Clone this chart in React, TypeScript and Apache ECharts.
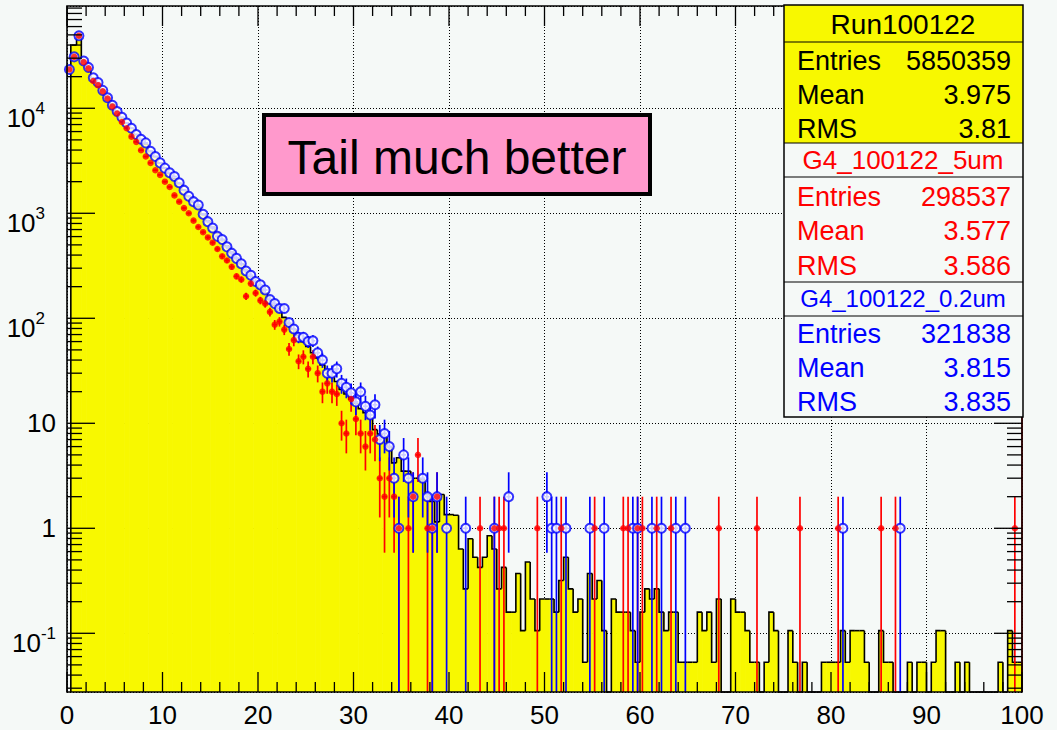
import React, { useEffect, useRef } from "react";
import * as echarts from "echarts";

const BG = "#f5f9f7";
const YELLOW = "#f8f800";
const RED = "#ff0000";
const BLUE = "#0000ff";
const PINK = "#ff99cc";
const FONT = "Liberation Sans";

const BIN_WIDTH = 0.5;
const FIRST_EDGE = 0.4;
const X_MIN = 0;
const X_MAX = 100;
const Y_MIN = 0.0276;
const Y_MAX = 94200;

const xMajorTicks = [0, 10, 20, 30, 40, 50, 60, 70, 80, 90, 100];
const yMajorExponents = [-1, 0, 1, 2, 3, 4];
const yTickLabels = ["{b|10}{n|-1}", "1", "10", "{b|10}{p|2}", "{b|10}{p|3}", "{b|10}{p|4}"];

// Yellow data histogram (Run100122), bins of 0.5, bins 0..81
const yellowMain = [
  40000, 40000, 47000, 28200, 24000, 19500, 17400, 14800, 12600, 11000,
  9330, 8130, 7240, 6460, 5620, 5010, 4570, 3890, 3470, 3020,
  2690, 2400, 2140, 1910, 1660, 1450, 1290, 1150, 977, 851,
  741, 646, 562, 490, 427, 372, 331, 288, 251, 224,
  195, 174, 151, 132, 117, 102, 89, 79, 69, 60,
  54, 47, 42, 36, 32, 28, 25, 21, 19, 17,
  15.5, 13.8, 12.6, 11.2, 8.7, 7.9, 7.4, 6.0, 4.2, 4.7,
  3.5, 3.5, 3.0, 3.0, 2.9, 2.1, 1.8, 1.15, 2.1, 1.35,
  1.35, 1.33,
];
// bins 82..199
const yellowTail = [
  0.636, 0.265, 0.795, 0.53, 0.424, 0.53, 0.848, 0.636, 0.265, 0.424,
  0.159, 0.159, 0.371, 0.106, 0.477, 0.212, 0.106, 0.212, 0.212, 0.212,
  0.159, 0.318, 0.53, 0.265, 0.159, 0.212, 0.053, 0.371, 0.212, 0.318,
  0.106, 0, 0.212, 0.159, 0.159, 0.159, 0.106, 0.053, 0.159, 0.265,
  0.212, 0.265, 0.159, 0.106, 0.159, 0.159, 0.053, 0.053, 0.053, 0.053,
  0.159, 0.106, 0.159, 0.053, 0.212, 0, 0, 0.212, 0.159, 0.159,
  0.106, 0.053, 0.053, 0, 0.053, 0.159, 0.106, 0, 0, 0.106,
  0.053, 0, 0.053, 0, 0, 0, 0.053, 0.053, 0.053, 0.053,
  0.106, 0.053, 0.106, 0.106, 0.106, 0.053, 0, 0, 0.106, 0.053,
  0.053, 0, 0, 0, 0.053, 0, 0.053, 0.053, 0, 0.053,
  0.106, 0.106, 0, 0, 0.053, 0, 0.053, 0, 0, 0,
  0, 0, 0, 0.053, 0, 0.106, 0.053, 0.053,
];

// G4_100122_5um (red), bins 0..77
const redMain = [
  23400, 30900, 49000, 27500, 24000, 18200, 16600, 14500, 12400, 10400,
  8910, 7410, 6460, 5370, 4790, 3980, 3470, 3020, 2570, 2320,
  2000, 1780, 1480, 1290, 1120, 1000, 851, 741, 661, 589,
  525, 457, 389, 355, 309, 251, 234, 162, 214, 174,
  148, 138, 115, 87, 93, 78, 51, 62, 39, 43,
  33, 43, 30, 20, 24, 20, 19, 10, 8, 17,
  11, 8, 6, 8, 7, 3, 2, 3, 2, 1,
  null, 1, 2, 5, null, 1, 1, 2,
];
const redTailBins = [86, 89, 90, 91, 98, 103, 110, 116, 117, 119, 120, 123, 126, 136, 144, 153, 161, 170, 173, 198];
const redTailVals = [1, 1, 1, 1, 1, 1, 1, 1, 1, 1, 1, 1, 1, 1, 1, 1, 1, 1, 1, 1];

// G4_100122_0.2um (blue), bins 0..79
const blueMain = [
  23400, 30900, 49000, 28200, 24500, 19500, 17600, 14800, 12600, 10700,
  9330, 8220, 7240, 6460, 5620, 5070, 4680, 3890, 3470, 3020,
  2690, 2430, 2240, 1950, 1660, 1450, 1290, 1200, 977, 832,
  724, 603, 562, 479, 417, 372, 331, 282, 257, 224,
  208, 186, 151, 138, 124, 124, 91, 79, 66, 66,
  60, 61, 47, 40, 30, 30, 33, 24, 22, 19.5,
  16, 20, 14.5, 12, 15, 7, 8, 6, 3, 1,
  5, 3, 2, null, 3, 2, 1, 2, null, 1,
];
const blueTailBins = [83, 89, 92, 100, 101, 102, 104, 109, 112, 118, 119, 122, 124, 127, 129, 162, 174];
const blueTailVals = [1, 1, 2, 2, 1, 1, 1, 1, 1, 1, 1, 1, 1, 1, 1, 1, 1];

// Stats boxes
const statTitles = ["Run100122", "G4_100122_5um", "G4_100122_0.2um"];
const statEntries = ["5850359", "298537", "321838"];
const statMeans = ["3.975", "3.577", "3.815"];
const statRms = ["3.81", "3.586", "3.835"];
const statColors = ["#000000", RED, BLUE];
const annotationText = "Tail much better";

const yellowAll = yellowMain.concat(yellowTail);
const histData = yellowAll.map((v, i) => [
  i === 0 ? FIRST_EDGE : i * BIN_WIDTH,
  (i + 1) * BIN_WIDTH,
  v,
  i === 0 ? 0 : yellowAll[i - 1],
]);

function buildPoints(main: (number | null)[], tailBins: number[], tailVals: number[]) {
  const pts: number[][] = [];
  main.forEach((v, i) => {
    if (v != null) pts.push([(i + 0.5) * BIN_WIDTH, v]);
  });
  tailBins.forEach((b, k) => pts.push([(b + 0.5) * BIN_WIDTH, tailVals[k]]));
  return pts;
}
const redPoints = buildPoints(redMain, redTailBins, redTailVals);
const bluePoints = buildPoints(blueMain, blueTailBins, blueTailVals);
const redErr = redPoints.map((p) => [p[0], p[1], Math.sqrt(p[1])]);
const blueErr = bluePoints.map((p) => [p[0], p[1], Math.sqrt(p[1])]);

const yMinorTicks: number[] = [];
for (let d = -2; d <= 4; d++) {
  for (let k = 2; k <= 9; k++) {
    const v = k * Math.pow(10, d);
    if (v > Y_MIN && v < Y_MAX) yMinorTicks.push(v);
  }
}
const xMinorTicks: number[] = [];
for (let v = 2; v < 100; v += 2) if (v % 10 !== 0) xMinorTicks.push(v);

function makeErrRender(color: string) {
  return (params: any, api: any) => {
    const cs = params.coordSys;
    const T = cs.y;
    const B = cs.y + cs.height;
    const x = api.value(0);
    const v = api.value(1);
    const e = api.value(2);
    const c = api.coord([x, v]);
    const hiY = Math.max(T, api.coord([x, v + e])[1]);
    const lo = v - e;
    const loY = lo > 0 ? Math.min(B, api.coord([x, lo])[1]) : B;
    const xl = api.coord([x - BIN_WIDTH / 2, v])[0];
    const xr = api.coord([x + BIN_WIDTH / 2, v])[0];
    return {
      type: "group",
      children: [
        { type: "line", shape: { x1: c[0], y1: hiY, x2: c[0], y2: loY }, style: { stroke: color, lineWidth: 1.7 } },
        { type: "line", shape: { x1: xl, y1: c[1], x2: xr, y2: c[1] }, style: { stroke: color, lineWidth: 1.7 } },
      ],
    };
  };
}

function buildOption(): any {
  const statGraphics: any[] = [];
  const BX = 784;
  const BW = 239;
  const BR = BX + BW;
  statGraphics.push({ type: "rect", z: 100, shape: { x: BX, y: 5, width: BW, height: 138 }, style: { fill: YELLOW } });
  statGraphics.push({ type: "rect", z: 100, shape: { x: BX, y: 143, width: BW, height: 274 }, style: { fill: BG } });
  [42, 143, 177, 282, 316].forEach((y) =>
    statGraphics.push({ type: "line", z: 101, shape: { x1: BX, y1: y, x2: BR, y2: y }, style: { stroke: "#000", lineWidth: 1.2 } })
  );
  statGraphics.push({ type: "rect", z: 101, shape: { x: BX, y: 5, width: BW, height: 412 }, style: { fill: null, stroke: "#000", lineWidth: 1.5 } });
  const titleY = [24, 160, 298];
  const titleSize = [28, 26, 24];
  const rowY = [[61, 95, 129], [197, 231, 266], [334, 368, 402]];
  for (let s = 0; s < 3; s++) {
    statGraphics.push({
      type: "text", z: 102, x: 903, y: titleY[s],
      style: { text: statTitles[s], fill: statColors[s], fontSize: titleSize[s], fontFamily: FONT, align: "center", verticalAlign: "middle" },
    });
    const labels = ["Entries", "Mean", "RMS"];
    const vals = [statEntries[s], statMeans[s], statRms[s]];
    for (let r = 0; r < 3; r++) {
      statGraphics.push({
        type: "text", z: 102, x: 797, y: rowY[s][r],
        style: { text: labels[r], fill: statColors[s], fontSize: 27, fontFamily: FONT, align: "left", verticalAlign: "middle" },
      });
      statGraphics.push({
        type: "text", z: 102, x: 1011, y: rowY[s][r],
        style: { text: vals[r], fill: statColors[s], fontSize: 27, fontFamily: FONT, align: "right", verticalAlign: "middle" },
      });
    }
  }
  const annotation = [
    { type: "rect", z: 100, shape: { x: 264, y: 115, width: 386, height: 79 }, style: { fill: PINK, stroke: "#000", lineWidth: 4 } },
    {
      type: "text", z: 101, x: 457, y: 157,
      style: { text: annotationText, fill: "#000", fontSize: 48, fontFamily: FONT, align: "center", verticalAlign: "middle" },
    },
  ];

  return {
    animation: false,
    backgroundColor: BG,
    textStyle: { fontFamily: FONT },
    grid: { left: 67, right: 35, top: 6, bottom: 38, containLabel: false },
    xAxis: {
      type: "value",
      min: X_MIN,
      max: X_MAX,
      interval: 10,
      axisLine: { show: false },
      axisTick: { show: false },
      axisLabel: { fontSize: 26, color: "#000", fontFamily: FONT, margin: 10 },
      splitLine: { show: true, lineStyle: { color: "#000", width: 1, type: [1, 2] } },
    },
    yAxis: {
      type: "log",
      logBase: 10,
      min: Y_MIN,
      max: Y_MAX,
      axisLine: { show: false },
      axisTick: { show: false },
      splitLine: { show: true, lineStyle: { color: "#000", width: 1, type: [1, 2] } },
      axisLabel: {
        showMinLabel: false,
        showMaxLabel: false,
        margin: 11,
        fontSize: 26,
        color: "#000",
        fontFamily: FONT,
        formatter: (val: number) => {
          const lg = Math.log10(val);
          const e = Math.round(lg);
          if (Math.abs(lg - e) > 1e-6) return "";
          const idx = yMajorExponents.indexOf(e);
          return idx >= 0 ? yTickLabels[idx] : "";
        },
        rich: {
          b: { fontSize: 26, lineHeight: 46, verticalAlign: "bottom", fontFamily: FONT, color: "#000" },
          p: { fontSize: 17, lineHeight: 17, padding: [0, 11, 14, 0], verticalAlign: "bottom", fontFamily: FONT, color: "#000" },
          n: { fontSize: 17, lineHeight: 17, padding: [0, 0, 14, 0], verticalAlign: "bottom", fontFamily: FONT, color: "#000" },
        },
      },
    },
    graphic: statGraphics.concat(annotation),
    series: [
      {
        type: "custom",
        name: "Run100122 fill",
        z: 2,
        silent: true,
        encode: { x: [0, 1], y: 2 },
        data: histData,
        renderItem: (params: any, api: any) => {
          const cs = params.coordSys;
          const T = cs.y;
          const B = cs.y + cs.height;
          const lo = api.value(0);
          const hi = api.value(1);
          const v = api.value(2);
          if (!(v > 0)) return null;
          const p1 = api.coord([lo, v]);
          const p2 = api.coord([hi, v]);
          const top = Math.min(B, Math.max(T, p1[1]));
          const extra = params.dataIndex === histData.length - 1 ? 0 : 0.6;
          return {
            type: "rect",
            shape: { x: p1[0], y: top, width: p2[0] - p1[0] + extra, height: B - top },
            style: { fill: YELLOW },
          };
        },
      },
      {
        type: "custom",
        name: "Run100122 outline",
        z: 3,
        silent: true,
        encode: { x: [0, 1], y: 2 },
        data: histData,
        renderItem: (params: any, api: any) => {
          const cs = params.coordSys;
          const T = cs.y;
          const B = cs.y + cs.height;
          const lo = api.value(0);
          const hi = api.value(1);
          const v = api.value(2);
          const pv = api.value(3);
          const yOf = (val: number) => (val > 0 ? Math.min(B, Math.max(T, api.coord([lo, val])[1])) : B);
          const xl = api.coord([lo, 1])[0];
          const xr = api.coord([hi, 1])[0];
          const y = yOf(v);
          const py = yOf(pv);
          const pts = [[xl, py], [xl, y], [xr, y]];
          if (params.dataIndex === histData.length - 1) pts.push([xr, B]);
          return { type: "polyline", shape: { points: pts }, style: { stroke: "#000", lineWidth: 1.6, fill: null } };
        },
      },
      {
        type: "custom",
        name: "G4_100122_5um errors",
        z: 4,
        silent: true,
        encode: { x: 0, y: 1 },
        data: redErr,
        renderItem: makeErrRender(RED),
      },
      {
        type: "custom",
        name: "G4_100122_0.2um errors",
        z: 5,
        silent: true,
        encode: { x: 0, y: 1 },
        data: blueErr,
        renderItem: makeErrRender(BLUE),
      },
      {
        type: "scatter",
        name: "G4_100122_0.2um",
        z: 6,
        silent: true,
        symbol: "emptyCircle",
        symbolSize: 9,
        itemStyle: { color: BLUE, borderWidth: 2 },
        data: bluePoints,
      },
      {
        type: "scatter",
        name: "G4_100122_5um",
        z: 7,
        silent: true,
        symbol: "circle",
        symbolSize: 6.5,
        itemStyle: { color: RED },
        data: redPoints,
        markLine: {
          silent: true,
          symbol: "none",
          label: { show: false },
          lineStyle: { color: RED, type: "solid", width: 1.5 },
          data: [{ xAxis: 99.93 }],
        },
      },
      {
        type: "custom",
        name: "frame",
        z: 8,
        silent: true,
        encode: { x: 0, y: 1 },
        data: [[50, 1]],
        renderItem: (params: any, api: any) => {
          const cs = params.coordSys;
          const L = cs.x;
          const R = cs.x + cs.width;
          const T = cs.y;
          const B = cs.y + cs.height;
          const ch: any[] = [];
          const ln = (x1: number, y1: number, x2: number, y2: number) => ({
            type: "line",
            shape: { x1, y1, x2, y2 },
            style: { stroke: "#000", lineWidth: 1.3 },
          });
          yMajorExponents.forEach((e) => {
            const y = api.coord([X_MIN, Math.pow(10, e)])[1];
            ch.push(ln(L, y, L + 28, y), ln(R, y, R - 28, y));
          });
          yMinorTicks.forEach((v) => {
            const y = api.coord([X_MIN, v])[1];
            ch.push(ln(L, y, L + 15, y), ln(R, y, R - 15, y));
          });
          xMajorTicks.forEach((v) => {
            const x = api.coord([v, 1])[0];
            ch.push(ln(x, B, x, B - 20), ln(x, T, x, T + 20));
          });
          xMinorTicks.forEach((v) => {
            const x = api.coord([v, 1])[0];
            ch.push(ln(x, B, x, B - 10), ln(x, T, x, T + 10));
          });
          ch.push({
            type: "rect",
            shape: { x: L, y: T, width: R - L, height: B - T },
            style: { fill: null, stroke: "#000", lineWidth: 1.6 },
          });
          return { type: "group", children: ch };
        },
      },
    ],
  };
}

export default function App() {
  const ref = useRef<HTMLDivElement>(null);
  useEffect(() => {
    if (!ref.current) return;
    const chart = echarts.init(ref.current, null, { renderer: "svg" });
    chart.setOption(buildOption());
    return () => chart.dispose();
  }, []);
  return (
    <div
      ref={ref}
      style={{ position: "absolute", left: 0, top: 0, width: 1057, height: 730, background: BG }}
    />
  );
}
